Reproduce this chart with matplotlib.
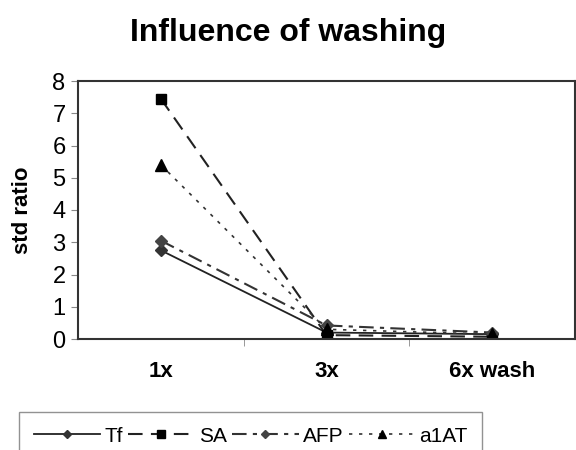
import matplotlib
matplotlib.use("Agg")
import matplotlib.pyplot as plt

plt.rcParams["font.family"] = ["Liberation Sans", "DejaVu Sans"]

# --- Data ---
categories = ["1x", "3x", "6x wash"]
tf = [2.75, 0.2, 0.15]
sa = [7.45, 0.12, 0.07]
afp = [3.05, 0.42, 0.2]
a1at = [5.4, 0.3, 0.15]

x = list(range(len(categories)))

fig = plt.figure(figsize=(5.76, 4.5), dpi=100)
ax = fig.add_axes([78 / 576, 1 - 339 / 450, 497 / 576, 258 / 450])

ax.plot(x, tf, color="#222222", lw=1.3, ls="-", marker="D", ms=6,
        mfc="#333333", mec="#333333", label="Tf")
ax.plot(x, sa, color="#222222", lw=1.5, ls=(0, (7, 4)), marker="s", ms=7,
        mfc="black", mec="black", label="SA")
ax.plot(x, afp, color="#333333", lw=1.5, ls=(0, (7, 3, 2, 3)), marker="D", ms=6,
        mfc="#444444", mec="#444444", label="AFP")
ax.plot(x, a1at, color="#333333", lw=1.2, ls=(0, (2, 4)), marker="^", ms=8,
        mfc="black", mec="black", label="a1AT")

ax.set_xlim(-0.5, 2.5)
ax.set_ylim(0, 8)
ax.set_yticks(range(0, 9))
ax.set_xticks(x)
ax.set_xticklabels(categories, fontweight="bold", fontsize=16)
ax.set_xticks([0.5, 1.5], minor=True)
ax.tick_params(axis="x", which="major", length=0, pad=16)
ax.tick_params(axis="x", which="minor", length=5, direction="out", color="#888888")
ax.tick_params(axis="y", labelsize=17, length=5, direction="out", color="#888888", pad=4)
ax.set_ylabel("std ratio", fontweight="bold", fontsize=16, labelpad=14)

for s in ax.spines.values():
    s.set_color("#333333")
    s.set_linewidth(1.5)

fig.suptitle("Influence of washing", fontweight="bold", fontsize=23, y=0.96)

fig.legend(loc="upper left", bbox_to_anchor=(19 / 576, 1 - 412 / 450),
           ncol=4, frameon=True, fancybox=False, edgecolor="#777777",
           fontsize=15, handlelength=3.2, handletextpad=0.2, columnspacing=0.25,
           borderpad=0.7, borderaxespad=0, markerscale=0.75)

fig.savefig("out.png", dpi=100)
